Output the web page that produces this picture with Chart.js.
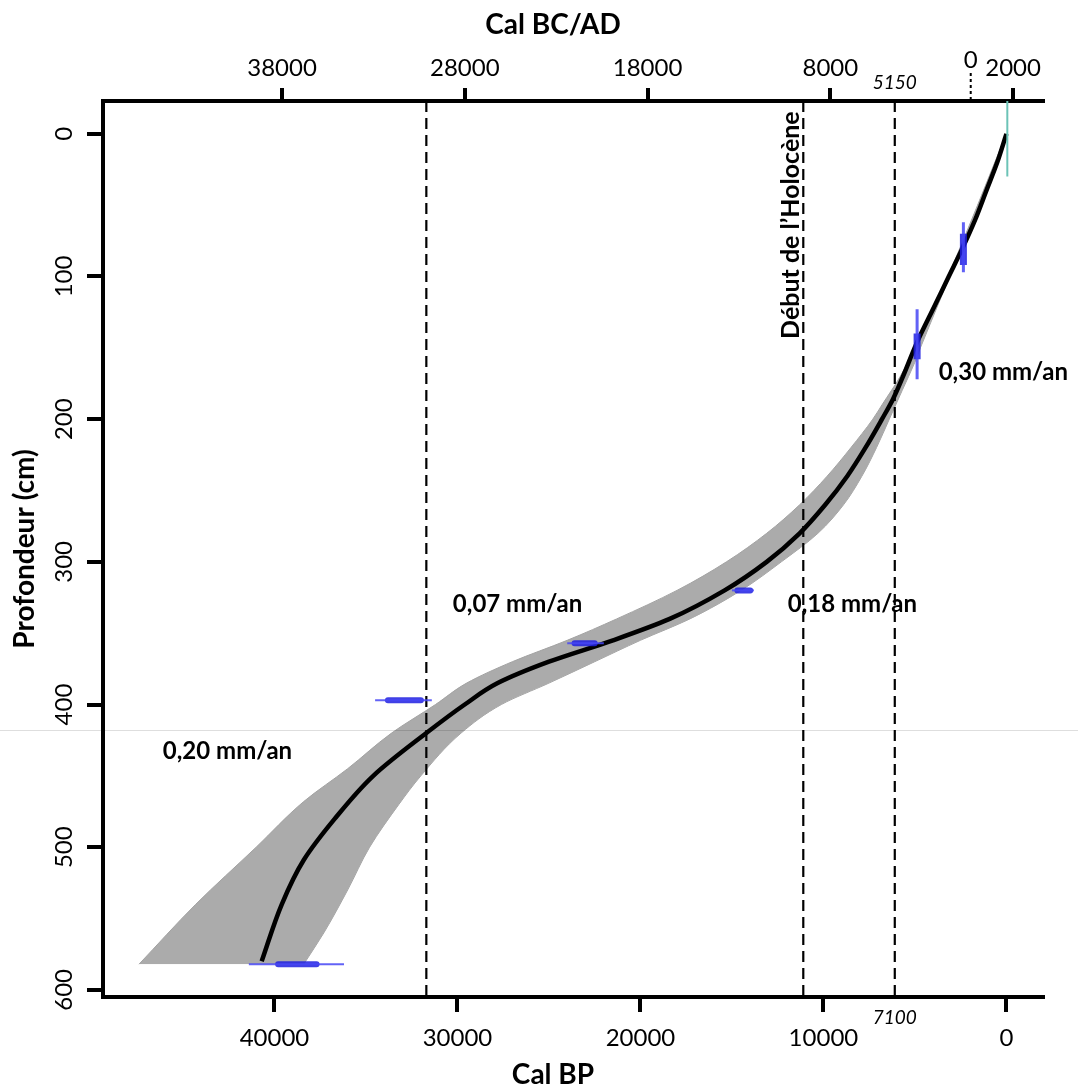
<!DOCTYPE html>
<html><head><meta charset="utf-8">
<script src="https://cdn.jsdelivr.net/npm/chart.js@4/dist/chart.umd.min.js"></script>
<style>html,body{margin:0;padding:0;background:#fff}canvas{display:block}</style>
</head><body>
<canvas id="c" width="1078" height="1087"></canvas>
<script>
// ---------- data ----------
const bpTicks = [0, 10000, 20000, 30000, 40000];
const bcadTicks = [-38000, -28000, -18000, -8000, 2000];
const depthTicks = [0, 100, 200, 300, 400, 500, 600];

// age-depth model (median)
const curveDepth = [0, 20, 40, 60, 81, 100, 120, 146, 170, 186, 200, 220, 240, 260, 280, 300, 320, 340, 355, 370, 385, 400, 420, 450, 480, 509, 540, 580];
const curveAge   = [0, 500, 1100, 1700, 2430, 3150, 3900, 4880, 5650, 6200, 6800, 7700, 8700, 9900, 11300, 13100, 15400, 18400, 21500, 25000, 27800, 29600, 31700, 34600, 36700, 38400, 39600, 40700];

// uncertainty envelope
const olderDepth = [0, 100, 150, 170, 190, 200, 220, 240, 260, 280, 300, 320, 340, 355, 370, 385, 400, 420, 445, 468, 500, 540, 582];
const olderAge   = [0, 3200, 5000, 5800, 6800, 7300, 8500, 9800, 11300, 13100, 15300, 18000, 21300, 24000, 27000, 29500, 31200, 33600, 36000, 38400, 41000, 44300, 47400];
const youngerDepth = [0, 100, 150, 160, 180, 200, 220, 240, 260, 280, 300, 320, 340, 355, 370, 385, 400, 420, 450, 470, 500, 530, 560, 582];
const youngerAge   = [0, 3100, 4700, 5000, 5700, 6400, 7100, 7900, 8900, 10300, 12300, 14500, 17300, 20000, 22500, 25000, 27600, 29800, 32000, 33200, 34800, 36000, 37300, 38400];

// calibrated dates drawn horizontally
const hDateDepth = [320, 357, 397, 582];
const hDateMin95 = [13800, 22000, 31400, 36200];
const hDateMax95 = [15000, 24000, 34500, 41400];
const hDateMin68 = [14000, 22500, 32000, 37700];
const hDateMax68 = [14700, 23600, 33800, 39800];
// calibrated dates drawn vertically
const vDateAge   = [2350, 4880];
const vDateTop95 = [62, 123];
const vDateBot95 = [97, 172];
const vDateTop68 = [70, 140];
const vDateBot68 = [92, 158];

// surface marker
const surfaceAge = -50;
const surfaceDepth = [-23, 30];

// dashed reference lines (Cal BP)
const refLineAges = [31700, 11100, 6100];
const holoceneLabel = 'Début de l’Holocène';
const holoceneLabelDepth = 64;
const markerTopLabel = '5150';
const markerBottomLabel = '7100';
const zeroADinBP = 1950;

// accumulation-rate labels
const rateLabels = ['0,30 mm/an', '0,18 mm/an', '0,07 mm/an', '0,20 mm/an'];
const rateAge    = [3700, 11950, 30250, 46100];
const rateDepth  = [167, 330, 330, 433];

const faintLineDepth = 418;
const bottomTitle = 'Cal BP';
const topTitle = 'Cal BC/AD';
const leftTitle = 'Profondeur (cm)';

// scale ranges
const bpMin = -2000, bpMax = 49370;
const adMin = -47797, adMax = 3639;
const depthMin = -23, depthMax = 605;

// ---------- build ----------
const FONT = 'Lato, "Open Sans", sans-serif';
Chart.defaults.font.family = FONT;
const pts = (xs, ys) => xs.map((v, i) => ({x: v, y: ys[i]}));
const BLUE_THIN = 'rgba(70,70,245,0.85)';
const BLUE_THICK = 'rgba(30,30,225,0.85)';

const datasets = [];
datasets.push({data: pts(olderAge, olderDepth), borderColor: '#a2a2a2', borderWidth: 1,
  backgroundColor: '#ababab', fill: '+1', pointRadius: 0, order: 10, cubicInterpolationMode: 'monotone'});
datasets.push({data: pts(youngerAge, youngerDepth), borderColor: '#a2a2a2', borderWidth: 1,
  fill: false, pointRadius: 0, order: 10, cubicInterpolationMode: 'monotone'});
datasets.push({data: pts(curveAge, curveDepth), borderColor: '#000', borderWidth: 4.5,
  fill: false, pointRadius: 0, order: 5, cubicInterpolationMode: 'monotone'});
refLineAges.forEach(a => datasets.push({data: [{x: a, y: depthMin}, {x: a, y: depthMax}],
  borderColor: '#000', borderWidth: 2.2, borderDash: [11, 6], pointRadius: 0, fill: false, order: 3}));
datasets.push({data: [{x: surfaceAge, y: surfaceDepth[0]}, {x: surfaceAge, y: surfaceDepth[1]}],
  borderColor: '#6cc3b7', borderWidth: 2, pointRadius: 0, fill: false, order: 2});
hDateDepth.forEach((d, i) => {
  datasets.push({data: [{x: hDateMin95[i], y: d}, {x: hDateMax95[i], y: d}], borderColor: BLUE_THIN,
    borderWidth: 2, pointRadius: 0, fill: false, order: 1});
  datasets.push({data: [{x: hDateMin68[i], y: d}, {x: hDateMax68[i], y: d}], borderColor: BLUE_THICK,
    borderWidth: 6, pointRadius: 0, fill: false, order: 1, borderCapStyle: 'round'});
});
vDateAge.forEach((a, i) => {
  datasets.push({data: [{x: a, y: vDateTop95[i]}, {x: a, y: vDateBot95[i]}], borderColor: BLUE_THIN,
    borderWidth: 3, pointRadius: 0, fill: false, order: 1});
  datasets.push({data: [{x: a, y: vDateTop68[i]}, {x: a, y: vDateBot68[i]}], borderColor: BLUE_THICK,
    borderWidth: 7, pointRadius: 0, fill: false, order: 1});
});

const overlay = {
  id: 'overlay',
  afterDraw(chart) {
    const {ctx, chartArea: ca, scales} = chart;
    const xs = scales.x, ys = scales.y;
    ctx.save();
    const yl = Math.round(ys.getPixelForValue(faintLineDepth)) + 0.5;
    ctx.strokeStyle = 'rgba(0,0,0,0.13)'; ctx.lineWidth = 1;
    ctx.beginPath(); ctx.moveTo(0, yl); ctx.lineTo(chart.width, yl); ctx.stroke();

    ctx.fillStyle = '#000'; ctx.textAlign = 'center'; ctx.textBaseline = 'middle';
    ctx.font = 'bold 28px ' + FONT;
    const cx = (ca.left + ca.right) / 2 - 20;
    ctx.fillText(bottomTitle, cx, chart.height - 12);
    ctx.fillText(topTitle, cx, 25);

    const x0 = xs.getPixelForValue(zeroADinBP);
    ctx.strokeStyle = '#000'; ctx.lineWidth = 2; ctx.setLineDash([3, 3]);
    ctx.beginPath(); ctx.moveTo(x0, ca.top - 28); ctx.lineTo(x0, ca.top); ctx.stroke();
    ctx.setLineDash([]);
    ctx.font = '24px ' + FONT;
    ctx.fillText('0', x0, ca.top - 41);

    const xr = xs.getPixelForValue(refLineAges[2]);
    ctx.font = 'italic 19px ' + FONT;
    ctx.fillText(markerTopLabel, xr, ca.top - 18);
    ctx.fillText(markerBottomLabel, xr, ca.bottom + 21);

    ctx.font = 'bold 24px ' + FONT; ctx.textAlign = 'left';
    rateLabels.forEach((t, i) => ctx.fillText(t, xs.getPixelForValue(rateAge[i]), ys.getPixelForValue(rateDepth[i])));

    ctx.save();
    ctx.font = 'bold 25px ' + FONT;
    ctx.translate(xs.getPixelForValue(refLineAges[1]) - 12, ys.getPixelForValue(holoceneLabelDepth));
    ctx.rotate(-Math.PI / 2); ctx.textAlign = 'center';
    ctx.fillText(holoceneLabel, 0, 0);
    ctx.restore();
    ctx.restore();
  }
};

const gridOpts = len => ({display: true, drawOnChartArea: false, drawTicks: true, tickLength: len,
  tickWidth: 4, lineWidth: 4, tickColor: '#000', color: '#000'});
const borderOpts = {display: true, color: '#000', width: 4};

new Chart(document.getElementById('c'), {
  type: 'line',
  data: {datasets},
  plugins: [overlay],
  options: {
    responsive: false, animation: false, indexAxis: 'y',
    layout: {padding: {left: 0, right: 35, top: 0, bottom: 0}},
    plugins: {legend: {display: false}, tooltip: {enabled: false}},
    elements: {line: {tension: 0}},
    scales: {
      x: {type: 'linear', axis: 'x', position: 'bottom', reverse: true, min: bpMin, max: bpMax,
        afterBuildTicks: s => { s.ticks = bpTicks.map(v => ({value: v})); },
        afterFit: s => { s.height = 90; },
        grid: gridOpts(15), border: borderOpts,
        ticks: {font: {family: FONT, size: 24}, color: '#000', padding: 12, maxRotation: 0, minRotation: 0, autoSkip: false,
          callback: v => String(v)}},
      x2: {type: 'linear', axis: 'x', position: 'top', min: adMin, max: adMax,
        afterBuildTicks: s => { s.ticks = bcadTicks.map(v => ({value: v})); },
        afterFit: s => { s.height = 101; },
        grid: gridOpts(13), border: borderOpts,
        ticks: {font: {family: FONT, size: 24}, color: '#000', padding: 5, maxRotation: 0, minRotation: 0, autoSkip: false,
          callback: v => String(Math.abs(v))}},
      y: {type: 'linear', axis: 'y', position: 'left', reverse: true, min: depthMin, max: depthMax,
        afterBuildTicks: s => { s.ticks = depthTicks.map(v => ({value: v})); },
        afterFit: s => { s.width = 103; },
        grid: gridOpts(16), border: borderOpts,
        ticks: {font: {family: FONT, size: 24}, color: '#000', padding: 2, minRotation: 90, maxRotation: 90,
          crossAlign: 'center', autoSkip: false, callback: v => String(v)},
        title: {display: true, text: leftTitle, color: '#000', font: {family: FONT, size: 28, weight: 'bold'},
          padding: {top: 8, bottom: 0}}}
    }
  }
});
</script>
</body></html>
